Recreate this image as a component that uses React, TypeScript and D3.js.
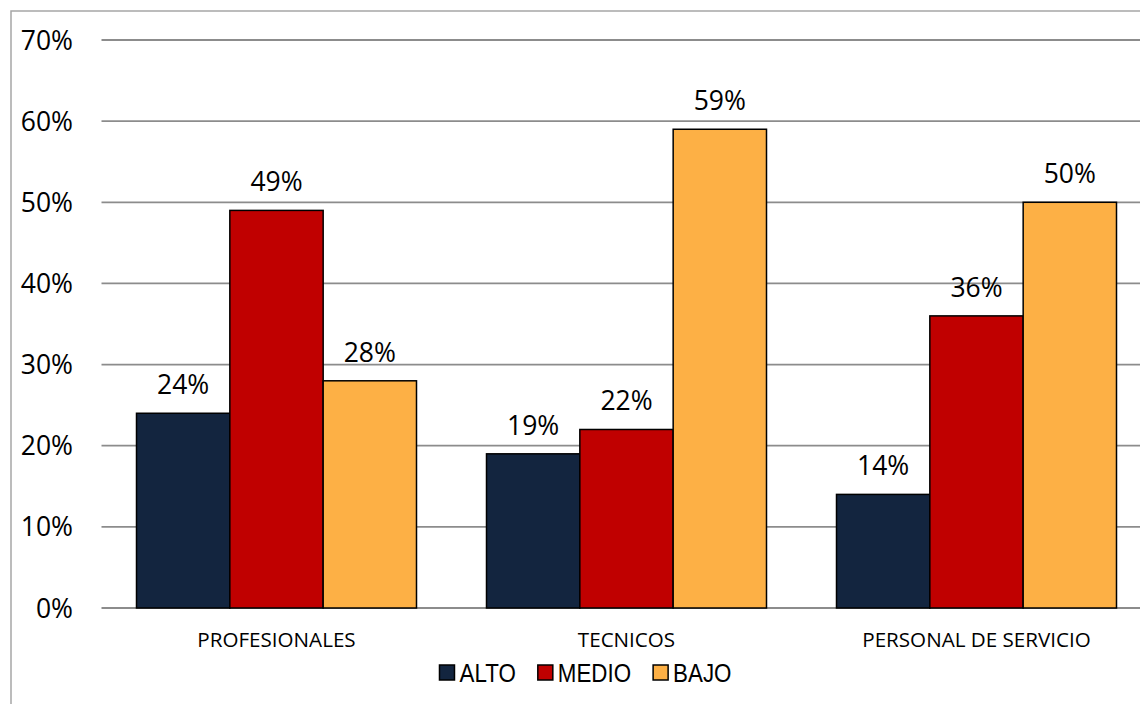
import React from "react";
import * as d3 from "d3";

const categories = ["PROFESIONALES", "TECNICOS", "PERSONAL DE SERVICIO"];
const seriesNames = ["ALTO", "MEDIO", "BAJO"];
const alto = [0.24, 0.19, 0.14];
const medio = [0.49, 0.22, 0.36];
const bajo = [0.28, 0.59, 0.5];
const yTicks = [0, 0.1, 0.2, 0.3, 0.4, 0.5, 0.6, 0.7];
const colors = ["#13253f", "#c00000", "#fdb045"];

const W = 1140;
const H = 704;
const plotLeft = 101.5;
const plotRight = 1151.5;
const plotTop = 40;
const plotBottom = 608;

const valueFont = "'Open Sans', 'Noto Sans', sans-serif";
const legendFont = "'Liberation Sans', Arial, sans-serif";
const narrow = 0.86;

function measure(text: string, font: string): number {
  if (typeof document === "undefined") return text.length * 12;
  const c = document.createElement("canvas");
  const ctx = c.getContext("2d");
  if (!ctx) return text.length * 12;
  ctx.font = font;
  return ctx.measureText(text).width;
}

export default function App() {
  const series = [alto, medio, bajo];
  const x0 = d3
    .scaleBand<string>()
    .domain(categories)
    .range([plotLeft, plotRight])
    .paddingInner(0.2)
    .paddingOuter(0.1);
  const x1 = d3
    .scaleBand<string>()
    .domain(seriesNames)
    .range([0, x0.bandwidth()])
    .padding(0);
  const y = d3.scaleLinear().domain([0, 0.7]).range([plotBottom, plotTop]);
  const fmt = d3.format(".0%");

  // legend layout
  const legendFontSize = 26;
  const sq = 15;
  const gapSqText = 5;
  const gapItems = 22;
  const widths = seriesNames.map((s) => measure(s, `${legendFontSize}px ${legendFont}`) * narrow);
  const total =
    widths.reduce((a, b) => a + b, 0) + seriesNames.length * (sq + gapSqText) + gapItems * (seriesNames.length - 1);
  const legendCenter = 585.5;
  let cursor = legendCenter - total / 2;
  const legendItems = seriesNames.map((s, i) => {
    const item = { name: s, x: cursor, color: colors[i] };
    cursor += sq + gapSqText + widths[i] + gapItems;
    return item;
  });

  return (
    <svg
      width={W}
      height={H}
      style={{ position: "absolute", left: 0, top: 0, background: "#fff" }}
    >
      <rect x={0} y={0} width={W} height={H} fill="#fff" />
      {/* chart border */}
      <path d={`M11,${H + 5} V11 H${W + 5}`} fill="none" stroke="#a6a6a6" strokeWidth={1.5} />
      {/* gridlines */}
      {yTicks.map((t) => (
        <line
          key={t}
          x1={plotLeft}
          x2={plotRight}
          y1={y(t)}
          y2={y(t)}
          stroke="#8c8c8c"
          strokeWidth={t === 0 ? 2 : 1.8}
        />
      ))}
      {/* y tick labels */}
      {yTicks.map((t) => (
        <text
          key={"l" + t}
          x={73}
          y={y(t) + 9.5}
          textAnchor="end"
          fontFamily={valueFont}
          fontSize={26.5}
          fill="#000"
        >
          {fmt(t)}
        </text>
      ))}
      {/* bars */}
      {categories.map((c, ci) => (
        <g key={c} transform={`translate(${x0(c)},0)`}>
          {seriesNames.map((s, si) => {
            const v = series[si][ci];
            const bx = x1(s) as number;
            return (
              <g key={s}>
                <rect
                  x={bx}
                  y={y(v)}
                  width={x1.bandwidth()}
                  height={y(0) - y(v)}
                  fill={colors[si]}
                  stroke="#000"
                  strokeWidth={1.5}
                />
                <text
                  x={bx + x1.bandwidth() / 2}
                  y={y(v) - 19}
                  textAnchor="middle"
                  fontFamily={valueFont}
                  fontSize={26.5}
                  fill="#000"
                >
                  {fmt(v)}
                </text>
              </g>
            );
          })}
        </g>
      ))}
      {/* category labels */}
      {categories.map((c) => (
        <text
          key={"c" + c}
          x={(x0(c) as number) + x0.bandwidth() / 2}
          y={647}
          textAnchor="middle"
          fontFamily={valueFont}
          fontSize={20.6}
          fill="#000"
        >
          {c}
        </text>
      ))}
      {/* legend */}
      {legendItems.map((it) => (
        <g key={it.name}>
          <rect x={it.x} y={665} width={sq} height={sq} fill={it.color} stroke="#000" strokeWidth={1.5} />
          <text
            transform={`translate(${it.x + sq + gapSqText},682) scale(${narrow},1)`}
            fontFamily={legendFont}
            fontSize={legendFontSize}
            fill="#000"
          >
            {it.name}
          </text>
        </g>
      ))}
    </svg>
  );
}
